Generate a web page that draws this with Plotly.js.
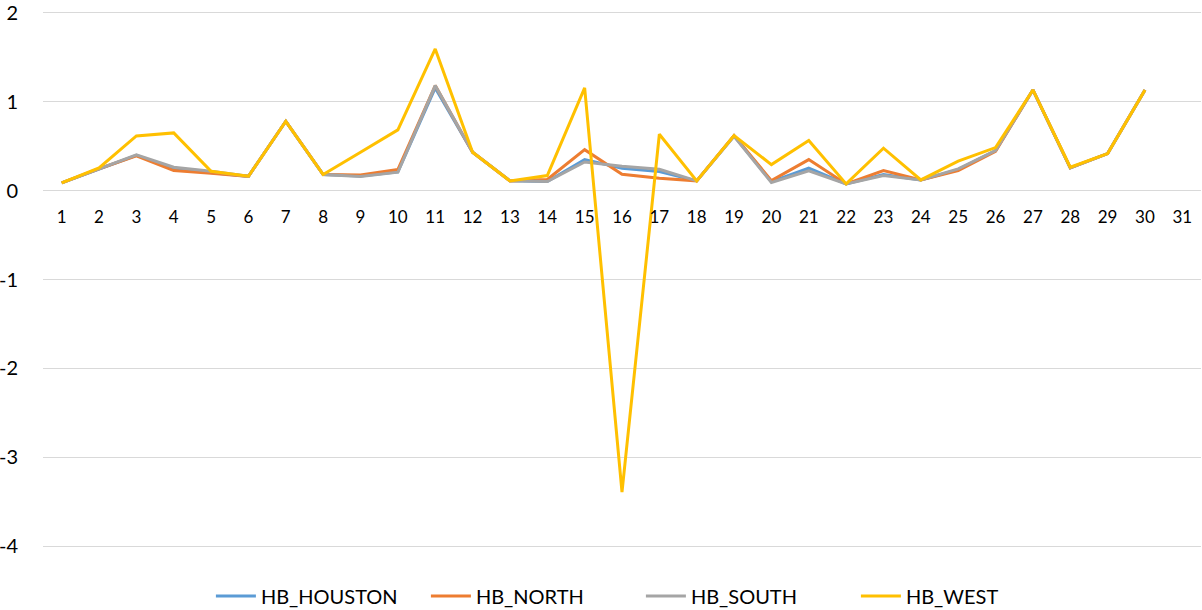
<!DOCTYPE html>
<html>
<head>
<meta charset="utf-8">
<script src="https://cdn.plot.ly/plotly-3.0.1.min.js"></script>
<style>html,body{margin:0;padding:0;background:#fff;}#chart{width:1202px;height:610px;}</style>
</head>
<body>
<div id="chart"></div>
<script>
const categories = ["1","2","3","4","5","6","7","8","9","10","11","12","13","14","15","16","17","18","19","20","21","22","23","24","25","26","27","28","29","30","31"];
const hbHouston = [0.087,0.245,0.395,0.245,0.205,0.16,0.779,0.18,0.163,0.21,1.154,0.43,0.109,0.101,0.348,0.251,0.213,0.109,0.615,0.10,0.251,0.075,0.18,0.12,0.235,0.45,1.131,0.255,0.416,1.131,null];
const hbNorth   = [0.087,0.245,0.39,0.225,0.195,0.16,0.779,0.18,0.176,0.236,1.18,0.43,0.109,0.124,0.46,0.183,0.138,0.109,0.618,0.112,0.348,0.075,0.225,0.12,0.225,0.44,1.131,0.255,0.416,1.131,null];
const hbSouth   = [0.087,0.245,0.401,0.262,0.217,0.16,0.779,0.18,0.157,0.206,1.18,0.43,0.109,0.101,0.322,0.273,0.24,0.109,0.61,0.09,0.221,0.075,0.169,0.12,0.243,0.449,1.131,0.255,0.416,1.131,null];
const hbWest    = [0.087,0.255,0.614,0.648,0.217,0.161,0.779,0.18,0.43,0.682,1.592,0.43,0.109,0.169,1.154,-3.39,0.633,0.109,0.618,0.292,0.562,0.075,0.476,0.12,0.33,0.483,1.131,0.262,0.416,1.131,null];
const seriesNames = ["HB_HOUSTON","HB_NORTH","HB_SOUTH","HB_WEST"];
const seriesColors = ["#5B9BD5","#ED7D31","#A5A5A5","#FFC000"];
const yTicks = [-4,-3,-2,-1,0,1,2];

const allSeries = [hbHouston, hbNorth, hbSouth, hbWest];
const traces = allSeries.map((vals, i) => ({
  x: categories, y: vals, type: 'scatter', mode: 'lines',
  name: seriesNames[i], line: {color: seriesColors[i], width: 3}
}));
const yMin = -4, yMax = 2, pad = 0.03;
const fam = 'Lato, "Open Sans", sans-serif';
const layout = {
  width: 1202, height: 610,
  margin: {l: 43, r: 1, t: 10, b: 61, autoexpand: false},
  paper_bgcolor: '#fff', plot_bgcolor: '#fff',
  font: {family: fam, size: 18, color: '#000'},
  showlegend: true,
  legend: {orientation: 'h', x: 0.145, xanchor: 'left', y: -0.051, yanchor: 'top',
           font: {family: fam, size: 20, color: '#000'}, itemwidth: 40, entrywidth: 160},
  xaxis: {
    type: 'category', range: [-0.5, categories.length - 0.5],
    anchor: 'free', position: (0 - (yMin - pad)) / ((yMax + pad) - (yMin - pad)),
    showgrid: false, zeroline: false, showline: false,
    ticks: 'outside', ticklen: 11, tickcolor: 'rgba(0,0,0,0)',
    tickfont: {family: fam, size: 17, color: '#000'}
  },
  yaxis: {
    range: [yMin - pad, yMax + pad], tickvals: yTicks, ticktext: yTicks.map(String),
    showgrid: true, gridcolor: '#D9D9D9', gridwidth: 1.5,
    zeroline: false, showline: false, ticklabeloverflow: 'allow',
    ticks: 'outside', ticklen: 20, tickcolor: 'rgba(0,0,0,0)',
    tickfont: {family: fam, size: 20, color: '#000'}
  }
};
Plotly.newPlot('chart', traces, layout, {staticPlot: true, displayModeBar: false});
</script>
</body>
</html>
